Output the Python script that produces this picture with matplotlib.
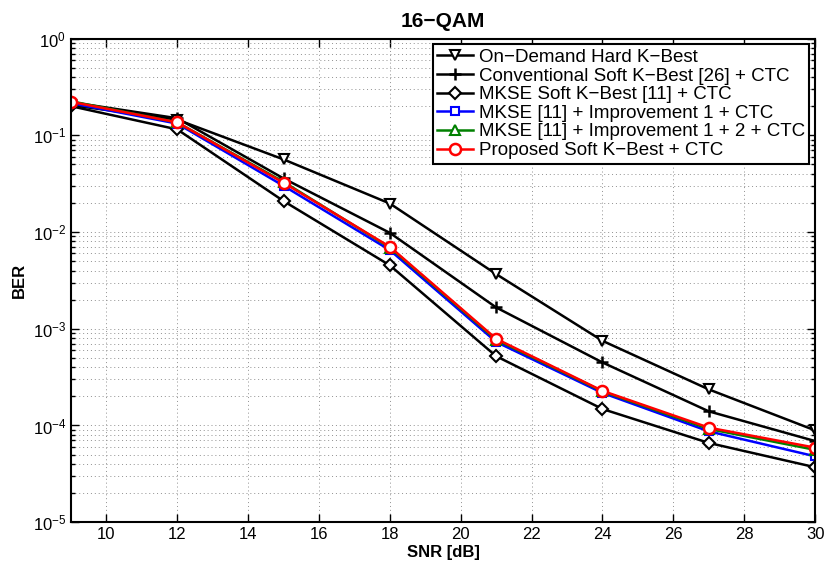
import matplotlib
matplotlib.use("Agg")
import matplotlib.pyplot as plt
from matplotlib.ticker import LogLocator, NullFormatter

snr = [9, 12, 15, 18, 21, 24, 27, 30]
ber_ondemand = [0.205, 0.145, 0.0563, 0.0197, 0.00367, 0.00075, 0.000236, 8.9e-5]
ber_conv = [0.22, 0.15, 0.0358, 0.0098, 0.00166, 0.000448, 0.00014, 6.9e-5]
ber_mkse = [0.20, 0.115, 0.0209, 0.00452, 0.00052, 0.000148, 6.6e-5, 3.7e-5]
ber_imp1 = [0.215, 0.132, 0.0300, 0.0065, 0.00073, 0.000217, 8.7e-5, 4.8e-5]
ber_imp12 = [0.225, 0.136, 0.0330, 0.0069, 0.00077, 0.000225, 9.2e-5, 5.6e-5]
ber_prop = [0.222, 0.136, 0.0323, 0.00703, 0.000787, 0.000228, 9.5e-5, 5.9e-5]

labels = ["On\u2212Demand Hard K\u2212Best",
          "Conventional Soft K\u2212Best [26] + CTC",
          "MKSE Soft K\u2212Best [11] + CTC",
          "MKSE [11] + Improvement 1 + CTC",
          "MKSE [11] + Improvement 1 + 2 + CTC",
          "Proposed Soft K\u2212Best + CTC"]

plt.rcParams['font.family'] = ['Liberation Sans', 'DejaVu Sans']

fig = plt.figure(figsize=(8.25, 5.67), dpi=100)
ax = fig.add_axes([0.086, 0.079, 0.902, 0.853])

lw = 1.8
ms = 7
ax.semilogy(snr, ber_ondemand, color='k', lw=lw, marker='v', ms=ms, mfc='white', mec='k', mew=1.5, label=labels[0])
ax.semilogy(snr, ber_conv, color='k', lw=lw, marker='+', ms=9, mec='k', mew=1.8, label=labels[1])
ax.semilogy(snr, ber_mkse, color='k', lw=lw, marker='D', ms=6, mfc='white', mec='k', mew=1.5, label=labels[2])
ax.semilogy(snr, ber_imp1, color='#0000ff', lw=lw, marker='s', ms=6, mfc='white', mec='#0000ff', mew=1.5, label=labels[3])
ax.semilogy(snr, ber_imp12, color='#008000', lw=lw, marker='^', ms=7, mfc='white', mec='#008000', mew=1.5, label=labels[4])
ax.semilogy(snr, ber_prop, color='#ff0000', lw=lw, marker='o', ms=8, mfc='white', mec='#ff0000', mew=1.8, label=labels[5])

ax.set_xlim(9, 30)
ax.set_ylim(1e-5, 1)
ax.set_xticks([10, 12, 14, 16, 18, 20, 22, 24, 26, 28, 30])
ax.yaxis.set_major_locator(LogLocator(base=10, numticks=10))
ax.yaxis.set_minor_locator(LogLocator(base=10, subs=range(2, 10), numticks=100))
ax.yaxis.set_minor_formatter(NullFormatter())

ax.grid(True, which='major', axis='both', linestyle=(0, (1, 3)), color='#909090', lw=0.7)
ax.grid(True, which='minor', axis='y', linestyle=(0, (1, 3)), color='#909090', lw=0.7)

ax.tick_params(which='both', direction='in', top=True, right=True, labelsize=12)
ax.tick_params(which='major', length=6, width=1)
ax.tick_params(which='minor', length=3, width=1)
for s in ax.spines.values():
    s.set_linewidth(1.5)

ax.set_xlabel("SNR [dB]", fontsize=12, fontweight='bold', labelpad=2)
ax.set_ylabel("BER", fontsize=12, fontweight='bold', labelpad=4)
ax.set_title("16\u2212QAM", fontsize=15, fontweight='bold', pad=8)

leg = ax.legend(loc='upper right', fontsize=13.5, frameon=True, fancybox=False,
                edgecolor='k', framealpha=1, labelspacing=0.08, handlelength=1.9,
                handletextpad=0.3, borderpad=0.25, borderaxespad=0.3)
leg.get_frame().set_linewidth(1.5)

fig.savefig("out.png", dpi=100)
